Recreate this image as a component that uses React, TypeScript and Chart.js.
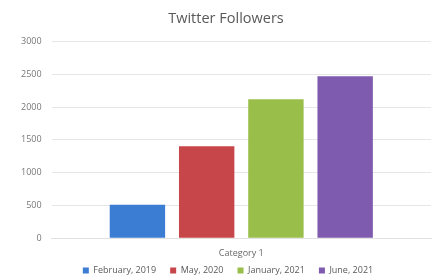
import React, { useEffect, useRef } from "react";
import { Chart, registerables } from "chart.js";

Chart.register(...registerables);

const categories = ["Category 1"];
const seriesNames = ["February, 2019", "May, 2020", "January, 2021", "June, 2021"];
const seriesValues = [[510], [1400], [2120], [2470]];
const seriesColors = ["#3B7DD3", "#C7464A", "#99BE4A", "#7E5BAE"];
const yTicks = [0, 500, 1000, 1500, 2000, 2500, 3000];

const boxShift = {
  id: "boxShift",
  afterLayout(chart: any) {
    const lg = chart.legend;
    if (lg) {
      lg.top -= 9;
      lg.bottom -= 9;
      lg.left += 7;
      lg.right += 7;
    }
    const tb = chart.titleBlock;
    if (tb) {
      tb.left += 5;
      tb.right += 5;
    }
  },
};

export default function App() {
  const ref = useRef<HTMLCanvasElement>(null);
  useEffect(() => {
    document.body.style.margin = "0";
    const font = "'Open Sans', 'DejaVu Sans', sans-serif";
    const chart = new Chart(ref.current!, {
      type: "bar",
      data: {
        labels: categories,
        datasets: seriesNames.map((name, i) => ({
          label: name,
          data: seriesValues[i],
          backgroundColor: seriesColors[i],
          borderWidth: 0,
          barPercentage: 0.8,
          categoryPercentage: 0.73,
        })),
      },
      options: {
        animation: false,
        responsive: false,
        maintainAspectRatio: false,
        layout: { padding: { left: 11, right: 6, top: 8, bottom: -14 } },
        plugins: {
          title: {
            display: true,
            text: "Twitter Followers",
            color: "#595959",
            font: { family: font, size: 14.5, weight: "normal" },
            padding: { top: 2, bottom: 14 },
          },
          legend: {
            position: "bottom",
            labels: {
              color: "#595959",
              boxWidth: 6,
              boxHeight: 6,
              padding: 14,
              font: { family: font, size: 9 },
            },
          },
          tooltip: { enabled: false },
        },
        scales: {
          x: {
            grid: { display: false },
            border: { display: true, color: "#e2e2e2" },
            ticks: { color: "#666666", font: { family: font, size: 9 }, padding: 2 },
          },
          y: {
            min: yTicks[0],
            max: yTicks[yTicks.length - 1],
            afterBuildTicks: (axis: any) => {
              axis.ticks = yTicks.map((v) => ({ value: v }));
            },
            grid: { color: "#e6e6e6", drawTicks: false },
            border: { display: false },
            ticks: {
              color: "#777777",
              font: { family: font, size: 9 },
              padding: 10,
              callback: (v: any) => String(v),
            },
          },
        },
      },
      plugins: [boxShift],
    });
    return () => chart.destroy();
  }, []);
  return (
    <div style={{ width: 437, height: 280 }}>
      <canvas ref={ref} width={437} height={280} style={{ display: "block" }} />
    </div>
  );
}
